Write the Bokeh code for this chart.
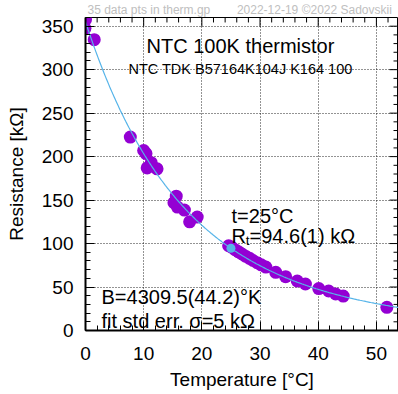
import numpy as np
from bokeh.plotting import figure
from bokeh.models import Range1d, Label, SingleIntervalTicker
from bokeh.embed import file_html
from bokeh.resources import INLINE

# measured data (temperature in °C, resistance in kOhm)
temps = [0.0, -0.1, 1.5, 7.7, 10.0, 10.4, 11.3, 10.6, 12.3,
         15.6, 15.2, 15.8, 17.0, 17.9, 19.2,
         24.6, 25.1, 25.7, 26.3, 26.9, 27.5, 28.2, 28.8, 29.5, 30.2, 31.0,
         32.7, 34.4, 36.4, 37.8, 40.1, 41.8, 43.0, 44.3, 51.8]
resist = [357.5, 347.5, 334.5, 222.5, 207.0, 203.5, 193.0, 187.0, 186.0,
          154.5, 147.0, 142.0, 138.5, 125.0, 130.5,
          97.5, 96.0, 93.0, 90.5, 88.0, 85.5, 83.0, 80.5, 78.0, 75.5, 73.0,
          66.9, 61.9, 56.9, 53.5, 48.2, 45.4, 42.1, 39.6, 26.7]

# fit parameters
B_fit = 4309.5
R25 = 94.6
t25 = 25.0

x_ticks_interval = 10
y_ticks_interval = 50
x_minor = 2
y_minor = 10

header_left = "35 data pts in therm.gp"
header_right = "2022-12-19 ©2022 Sadovskii"

X_END = 53.8
Y_END = 360.0
W, H = 398, 394
LEFT, RIGHT, TOP, BOTTOM = 85, 0, 16, 64

FONT = "Liberation Sans"

p = figure(width=W, height=H, output_backend="svg", toolbar_location=None,
           x_range=Range1d(0, X_END), y_range=Range1d(0, Y_END),
           min_border_left=LEFT, min_border_right=RIGHT, min_border_top=TOP,
           min_border_bottom=BOTTOM)
p.background_fill_color = "white"
p.border_fill_color = "white"
p.outline_line_color = "black"
p.outline_line_width = 1

# light-grey header line above the plot
p.title.text = header_left + "\u00a0" * 8 + header_right
p.title.text_font = FONT
p.title.text_font_size = "12px"
p.title.text_font_style = "normal"
p.title.text_color = "#c0c0c0"
p.title.align = "left"
p.title.offset = 2
p.title.standoff = 1

p.xaxis.ticker = SingleIntervalTicker(interval=x_ticks_interval, num_minor_ticks=5)
p.yaxis.ticker = SingleIntervalTicker(interval=y_ticks_interval, num_minor_ticks=5)

for ax in (p.xaxis[0], p.yaxis[0]):
    ax.axis_line_width = 2
    ax.axis_line_color = "black"
    ax.major_tick_in = 9
    ax.major_tick_out = 0
    ax.minor_tick_in = 5
    ax.minor_tick_out = 0
    ax.major_tick_line_color = "black"
    ax.minor_tick_line_color = "black"
    ax.major_label_text_font = FONT
    ax.major_label_text_font_size = "19px"
    ax.major_label_text_color = "black"
    ax.axis_label_text_font = FONT
    ax.axis_label_text_font_size = "19px"
    ax.axis_label_text_font_style = "normal"
    ax.axis_label_text_color = "black"

p.xaxis.axis_label = "Temperature [°C]"
p.yaxis.axis_label = "Resistance [kΩ]"
p.xaxis.major_label_standoff = 16
p.xaxis.axis_label_standoff = 6
p.yaxis.major_label_standoff = 12
p.yaxis.axis_label_standoff = 12

for g in (p.xgrid[0], p.ygrid[0]):
    g.grid_line_color = "black"
    g.grid_line_dash = "1 2"
    g.grid_line_width = 1
    g.grid_line_alpha = 0.85

# mirrored tick marks on the top and right borders (gnuplot style)
px_per_x = (W - LEFT - RIGHT) / X_END
px_per_y = (H - TOP - BOTTOM) / Y_END
xt = np.arange(0, X_END, x_minor)
x_len = np.where(np.isclose(xt % x_ticks_interval, 0), 9, 5) / px_per_y
p.segment(x0=xt, y0=np.full(len(xt), Y_END), x1=xt, y1=Y_END - x_len,
          line_color="black", line_width=1)
yt = np.arange(y_minor, Y_END, y_minor)
y_len = np.where(np.isclose(yt % y_ticks_interval, 0), 9, 5) / px_per_x
p.segment(x0=np.full(len(yt), X_END), y0=yt, x1=X_END - y_len, y1=yt,
          line_color="black", line_width=1)

# data points
p.scatter(temps, resist, size=13, color="#9400d3", line_color=None)

# fit curve
tc = np.linspace(-1, 54, 300)
rc = R25 * np.exp(B_fit * (1.0 / (tc + 273.15) - 1.0 / (t25 + 273.15)))
p.line(tc, rc, line_color="#56b4e9", line_width=1.2)
p.scatter([t25], [R25], size=9, color="#56b4e9", line_color=None)

def lab(x, y, text, size, align="left", color="black"):
    p.add_layout(Label(x=x, y=y, text=text, text_font=FONT, text_font_size=size,
                       text_align=align, text_baseline="alphabetic", text_color=color))

lab(26.64, 326.8, "NTC 100K thermistor", "20px", align="center")
lab(26.64, 300.4, "NTC TDK B57164K104J K164 100", "14.5px", align="center")
lab(25.1, 131.9, "t=25°C", "20px")
lab(25.1, 108.9, "R", "20px")
lab(27.55, 103.2, "t", "13.5px")
lab(28.2, 108.9, "=94.6(1) kΩ", "20px")
lab(2.75, 38.2, "B=4309.5(44.2)°K", "20px")
lab(2.75, 10.7, "fit std err. σ=5 kΩ", "20px")

open("out.html", "w").write(file_html(p, INLINE))
